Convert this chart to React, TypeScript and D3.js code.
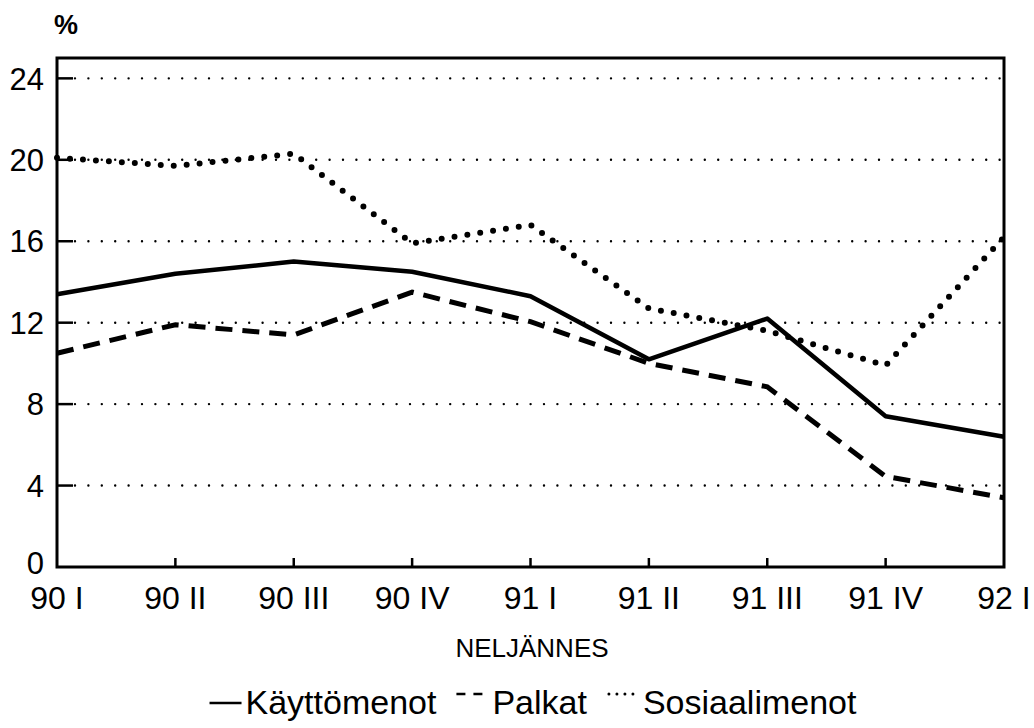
import * as d3 from "d3";
import { useEffect, useRef } from "react";

const quarters = ["90 I", "90 II", "90 III", "90 IV", "91 I", "91 II", "91 III", "91 IV", "92 I"];
const kayttomenot = [13.4, 14.4, 15.0, 14.5, 13.3, 10.2, 12.2, 7.4, 6.4];
const palkat = [10.5, 11.9, 11.4, 13.5, 12.05, 10.0, 8.85, 4.45, 3.4];
const sosiaalimenot = [20.1, 19.7, 20.3, 15.9, 16.8, 12.7, 11.6, 9.9, 16.2];
const yTicks = [0, 4, 8, 12, 16, 20, 24];

const W = 1034;
const H = 728;
const FONT = "'Liberation Sans', Arial, sans-serif";

const App = () => {
    const ref = useRef(null);

    useEffect(() => {
        const svg = d3.select(ref.current);
        svg.selectAll("*").remove();

        const margin = { top: 58, left: 57, right: 30, bottom: 161 };
        const x = d3.scalePoint()
            .domain(quarters)
            .range([margin.left, W - margin.right]);
        const y = d3.scaleLinear()
            .domain([0, 25])
            .range([H - margin.bottom, margin.top]);

        const x0 = margin.left;
        const x1 = W - margin.right;
        const y0 = H - margin.bottom;

        // dotted grid
        svg.append("g")
            .selectAll("line")
            .data(yTicks.filter(d => d > 0))
            .enter()
            .append("line")
            .attr("x1", x0 + 18)
            .attr("x2", x1)
            .attr("y1", d => y(d))
            .attr("y2", d => y(d))
            .attr("stroke", "#000")
            .attr("stroke-width", 2.4)
            .attr("stroke-linecap", "round")
            .attr("stroke-dasharray", "0 13.4");

        // y ticks
        svg.append("g")
            .selectAll("line")
            .data(yTicks.filter(d => d > 0))
            .enter()
            .append("line")
            .attr("x1", x0)
            .attr("x2", x0 + 16)
            .attr("y1", d => y(d))
            .attr("y2", d => y(d))
            .attr("stroke", "#000")
            .attr("stroke-width", 2.5);

        // x ticks
        svg.append("g")
            .selectAll("line")
            .data(quarters.slice(1, -1))
            .enter()
            .append("line")
            .attr("x1", d => x(d))
            .attr("x2", d => x(d))
            .attr("y1", y0)
            .attr("y2", y0 - 9)
            .attr("stroke", "#000")
            .attr("stroke-width", 2.5);

        // frame
        svg.append("rect")
            .attr("x", x0)
            .attr("y", margin.top)
            .attr("width", x1 - x0)
            .attr("height", y0 - margin.top)
            .attr("fill", "none")
            .attr("stroke", "#000")
            .attr("stroke-width", 3);

        const line = d3.line()
            .x((d, i) => x(quarters[i]))
            .y(d => y(d));

        svg.append("path")
            .attr("d", line(sosiaalimenot))
            .attr("fill", "none")
            .attr("stroke", "#000")
            .attr("stroke-width", 6)
            .attr("stroke-linecap", "round")
            .attr("stroke-dasharray", "0 13");

        svg.append("path")
            .attr("d", line(palkat))
            .attr("fill", "none")
            .attr("stroke", "#000")
            .attr("stroke-width", 5)
            .attr("stroke-dasharray", "17 10");

        svg.append("path")
            .attr("d", line(kayttomenot))
            .attr("fill", "none")
            .attr("stroke", "#000")
            .attr("stroke-width", 4.5)
            .attr("stroke-linejoin", "round");

        // y labels
        svg.append("g")
            .selectAll("text")
            .data(yTicks)
            .enter()
            .append("text")
            .attr("x", 44)
            .attr("y", d => y(d) - (d === 0 ? 4 : 0))
            .attr("dy", "0.36em")
            .attr("text-anchor", "end")
            .style("font-family", FONT)
            .style("font-size", "31px")
            .text(d => d);

        // x labels
        svg.append("g")
            .selectAll("text")
            .data(quarters)
            .enter()
            .append("text")
            .attr("x", d => x(d))
            .attr("y", 609)
            .attr("text-anchor", "middle")
            .style("font-family", FONT)
            .style("font-size", "32px")
            .text(d => d);

        svg.append("text")
            .attr("x", 66)
            .attr("y", 34)
            .attr("text-anchor", "middle")
            .style("font-family", FONT)
            .style("font-size", "27px")
            .style("font-weight", "bold")
            .text("%");

        svg.append("text")
            .attr("x", 532)
            .attr("y", 657)
            .attr("text-anchor", "middle")
            .style("font-family", FONT)
            .style("font-size", "26px")
            .text("NELJÄNNES");

        // legend
        const legendItems = [
            { label: "Käyttömenot", dash: null, w: 2.5, lift: 11 },
            { label: "Palkat", dash: "9 8", w: 2.5, lift: 20 },
            { label: "Sosiaalimenot", dash: "0 8", w: 3, lift: 20 },
        ];
        const lg = svg.append("g");
        let cx = 0;
        const baseY = 714;
        legendItems.forEach((it, i) => {
            if (i > 0) cx += 20;
            const sym = lg.append("line")
                .attr("x1", cx + (it.dash === "0 8" ? 2 : 0))
                .attr("x2", cx + 32)
                .attr("y1", baseY - it.lift)
                .attr("y2", baseY - it.lift)
                .attr("stroke", "#000")
                .attr("stroke-width", it.w);
            if (it.dash) sym.attr("stroke-dasharray", it.dash);
            if (it.dash === "0 8") sym.attr("stroke-linecap", "round");
            cx += 36;
            const t = lg.append("text")
                .attr("x", cx)
                .attr("y", baseY)
                .style("font-family", FONT)
                .style("font-size", "34px")
                .text(it.label);
            cx += t.node().getComputedTextLength();
        });
        lg.attr("transform", `translate(${533 - cx / 2},0)`);
    }, []);

    return (
        <div style={{ position: "absolute", left: 0, top: 0 }}>
            <svg ref={ref} width={W} height={H} style={{ display: "block", background: "#fff" }}></svg>
        </div>
    );
};

export default App;
